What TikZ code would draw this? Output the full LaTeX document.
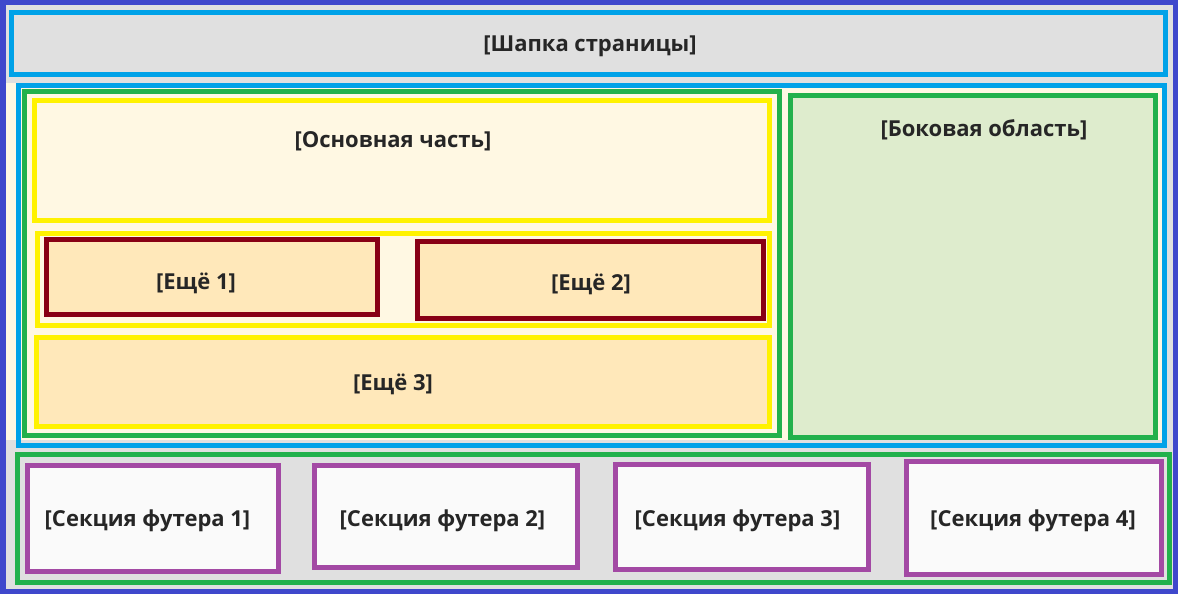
\documentclass[tikz,border=0pt]{standalone}
\usepackage{fontspec}
\setmainfont{Open Sans}
\definecolor{cIndigo}{HTML}{3F48CC}
\definecolor{cCyan}{HTML}{00A2E8}
\definecolor{cGreen}{HTML}{22B14C}
\definecolor{cYellow}{HTML}{FFF200}
\definecolor{cRed}{HTML}{880015}
\definecolor{cPurple}{HTML}{A349A4}
\definecolor{fGrey}{HTML}{E0E0E0}
\definecolor{fCream}{HTML}{FFF8E3}
\definecolor{fTan}{HTML}{FFE8BA}
\definecolor{fSide}{HTML}{DEECCD}
\definecolor{fWhite}{HTML}{FAFAFA}
\definecolor{cText}{HTML}{262626}
\tikzset{
  box/.style={draw, line width=5pt, inner sep=0pt, rectangle},
  lbl/.style={font=\fontsize{22}{26}\selectfont\bfseries, text=cText, inner sep=0pt}
}
\begin{document}
\begin{tikzpicture}[x=1pt,y=-1pt]
\useasboundingbox (0,0) rectangle (1178,594);
\fill[fGrey] (0,0) rectangle (1178,594);
\fill[fCream] (6,83) rectangle (1162,440);
% outer frame
\node[box, draw=cIndigo, line width=5.5pt, minimum width=1172.5pt, minimum height=588.75pt] (page) at (589,297.1) {};
% header
\node[box, draw=cCyan, fill=fGrey, minimum width=1154pt, minimum height=62pt] (header) at (588.5,43.5) {};
\node[lbl] (headert) at (590,46) {[Шапка страницы]};
% content
\node[box, draw=cCyan, minimum width=1146pt, minimum height=360pt] (content) at (591.5,265.5) {};
\node[box, draw=cGreen, fill=fCream, minimum width=755pt, minimum height=344pt] (main) at (402,263.5) {};
\node[box, draw=cYellow, fill=fCream, minimum width=735pt, minimum height=120pt] (y1) at (402,160.5) {};
\node[lbl] (y1t) at (393,141) {[Основная часть]};
\node[box, draw=cYellow, fill=fCream, minimum width=732pt, minimum height=92pt] (y2) at (403.5,279.5) {};
\node[box, draw=cRed, fill=fTan, minimum width=331pt, minimum height=75pt] (e1) at (212,277) {};
\node[lbl] (e1t) at (196,283) {[Ещё 1]};
\node[box, draw=cRed, fill=fTan, minimum width=346pt, minimum height=77pt] (e2) at (590.5,280) {};
\node[lbl] (e2t) at (591,284) {[Ещё 2]};
\node[box, draw=cYellow, fill=fTan, minimum width=733pt, minimum height=89pt] (y3) at (403,382) {};
\node[lbl] (y3t) at (393,384) {[Ещё 3]};
\node[box, draw=cGreen, fill=fSide, minimum width=365pt, minimum height=342pt] (side) at (973,266.5) {};
\node[lbl] (sidet) at (984,130) {[Боковая область]};
% footer
\node[box, draw=cGreen, fill=fGrey, minimum width=1152pt, minimum height=128pt] (footer) at (593.5,518.5) {};
\node[box, draw=cPurple, fill=fWhite, minimum width=251pt, minimum height=106pt] (f1) at (153,518.5) {};
\node[lbl] (f1t) at (147.5,521) {[Секция футера 1]};
\node[box, draw=cPurple, fill=fWhite, minimum width=263pt, minimum height=102pt] (f2) at (446,516.5) {};
\node[lbl] (f2t) at (442.5,521) {[Секция футера 2]};
\node[box, draw=cPurple, fill=fWhite, minimum width=253pt, minimum height=105pt] (f3) at (742,517) {};
\node[lbl] (f3t) at (737.5,521) {[Секция футера 3]};
\node[box, draw=cPurple, fill=fWhite, minimum width=255pt, minimum height=113pt] (f4) at (1034,518) {};
\node[lbl] (f4t) at (1033,521) {[Секция футера 4]};
\end{tikzpicture}
\end{document}
